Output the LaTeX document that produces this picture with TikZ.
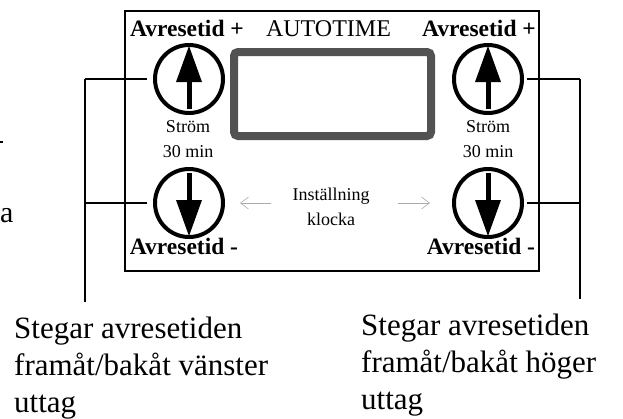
\documentclass[tikz,border=0pt]{standalone}
\usepackage{fontspec}
\setmainfont{Liberation Serif}
\usetikzlibrary{arrows.meta}
\tikzset{
  btn/.style={circle,draw,line width=4pt,minimum size=68pt,inner sep=0pt},
  conn/.style={line width=2.2pt},
  bigbold/.style={font=\fontsize{23.5}{28}\selectfont\bfseries,inner sep=0pt,anchor=base},
  bigreg/.style={font=\fontsize{24}{28}\selectfont,inner sep=0pt,anchor=base},
  small/.style={font=\fontsize{18}{25}\selectfont,inner sep=0pt,align=center},
  caption/.style={font=\fontsize{31}{37}\selectfont,inner sep=0pt,align=left,anchor=base west},
  hint/.style={draw=black!33,line width=0.6pt,-{Straight Barb[length=8pt,width=12pt]}},
  uparrow/.pic={\draw[line width=5pt] (0,30) -- (0,-2);
                \fill (0,-33) -- (13,3) -- (-13,3) -- cycle;},
  downarrow/.pic={\draw[line width=5pt] (0,-30) -- (0,2);
                \fill (0,33) -- (13,-3) -- (-13,-3) -- cycle;}
}
\begin{document}
\begin{tikzpicture}[x=1pt,y=-1pt]
\useasboundingbox (0,0) rectangle (623,418);
% panel
\node[draw,line width=2pt,minimum width=414pt,minimum height=260pt,inner sep=0pt] (panel) at (332,141) {};
% display
\node[draw=black!68,line width=8pt,rounded corners=4pt,minimum width=197pt,minimum height=84pt,inner sep=0pt] (disp) at (332.5,94) {};
% buttons
\node[btn] (lu) at (189,79) {};
\node[btn] (ld) at (189,203) {};
\node[btn] (ru) at (488,79) {};
\node[btn] (rd) at (488,203) {};
\pic at (lu.center) {uparrow};
\pic at (ru.center) {uparrow};
\pic at (ld.center) {downarrow};
\pic at (rd.center) {downarrow};
% labels
\node[bigbold] (lplus) at (187,36) {Avresetid +};
\node[bigbold] (rplus) at (479,36) {Avresetid +};
\node[bigreg] (auto) at (328.5,36) {AUTOTIME};
\node[bigbold] (lminus) at (184,254) {Avresetid -};
\node[bigbold] (rminus) at (481,254) {Avresetid -};
\node[small] (lstrom) at (188,139) {Ström\\30 min};
\node[small] (rstrom) at (488,139) {Ström\\30 min};
\node[small] (inst) at (331,207) {Inställning\\klocka};
\coordinate (al0) at (271,203);
\coordinate (ahl) at (240,203);
\coordinate (ar0) at (398,203);
\coordinate (ahr) at (430,203);
\draw[hint] (al0) -- (ahl);
\draw[hint] (ar0) -- (ahr);
% connectors
\coordinate (lt) at (85,79);
\coordinate (lm) at (85,203);
\coordinate (lb) at (85,302);
\coordinate (rt) at (580,79);
\coordinate (rm) at (580,203);
\coordinate (rb) at (580,299);
\draw[conn,shorten <=6pt] (lu.west) -- (lt);
\draw[conn,shorten <=6pt] (ld.west) -- (lm);
\draw[conn] (lt) -- (lb);
\draw[conn,shorten <=3pt] (ru.east) -- (rt);
\draw[conn,shorten <=3pt] (rd.east) -- (rm);
\draw[conn] (rt) -- (rb);
% captions (base anchor = last line's baseline)
\node[caption] (lcap) at (14,412) {Stegar avresetiden\\framåt/bakåt vänster\\uttag};
\node[caption] (rcap) at (361,409) {Stegar avresetiden\\framåt/bakåt höger\\uttag};
% clipped fragments at left edge
\node[font=\fontsize{30}{36}\selectfont,inner sep=0pt,anchor=base west] (frag) at (0,222) {a};
\fill (0,141) rectangle (3,143);
\end{tikzpicture}
\end{document}
